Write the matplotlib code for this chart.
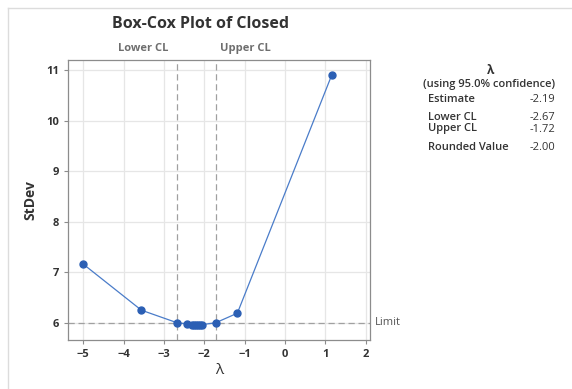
import numpy as np
import matplotlib.pyplot as plt
from matplotlib.lines import Line2D

plt.rcParams['font.family'] = ['Open Sans', 'DejaVu Sans']

# lambda grid and the standard deviation of the transformed data
lam = [-5.0, -3.56, -2.67, -2.43, -2.30, -2.25, -2.20, -2.15, -2.10, -2.05, -1.72, -1.18, 1.16]
stdev = [7.16, 6.25, 6.00, 5.98, 5.965, 5.96, 5.958, 5.96, 5.962, 5.965, 6.00, 6.19, 10.90]

estimate = -2.19
lower_cl = -2.67
upper_cl = -1.72
rounded = -2.00
limit = 6.00

xticks = [-5, -4, -3, -2, -1, 0, 1, 2]
yticks = [6, 7, 8, 9, 10, 11]

W, H = 572, 389
fig = plt.figure(figsize=(W / 100, H / 100), dpi=100)

def px(x0, y0, x1, y1):
    return [x0 / W, 1 - y1 / H, (x1 - x0) / W, (y1 - y0) / H]

# faint frame round the graph region
fig.add_artist(Line2D([8 / W, 8 / W], [0, 1 - 8 / H], color='#dcdcdc', lw=1))
fig.add_artist(Line2D([8 / W, 1], [1 - 8 / H, 1 - 8 / H], color='#dcdcdc', lw=1))

ax = fig.add_axes(px(68, 60, 370, 340))
ax.set_xlim(-5.38, 2.11)
ax.set_ylim(5.66, 11.2)
ax.set_xticks(xticks)
ax.set_yticks(yticks)
ax.grid(True, color='#e6e6e6', lw=0.9)
ax.set_axisbelow(True)
for s in ax.spines.values():
    s.set_color('#8c8c8c')
    s.set_linewidth(0.9)
ax.tick_params(colors='#8c8c8c', labelcolor='#333333', length=3, width=0.8, labelsize=8)
for lab in ax.get_xticklabels() + ax.get_yticklabels():
    lab.set_fontweight('bold')

ax.axhline(limit, color='#a0a0a0', ls=(0, (5, 3)), lw=0.9, zorder=1)
ax.axvline(lower_cl, color='#a0a0a0', ls=(0, (5, 3)), lw=0.9, zorder=1)
ax.axvline(upper_cl, color='#a0a0a0', ls=(0, (5, 3)), lw=0.9, zorder=1)

ax.plot(lam, stdev, color='#4a7cc9', lw=0.9, marker='o', ms=5,
        mfc='#2b5fb4', mec='#2b5fb4', zorder=3)

ax.text(lower_cl - 0.22, 11.32, 'Lower CL', ha='right', va='bottom', fontsize=8,
        color='#6e6e6e', fontweight='bold')
ax.text(upper_cl + 0.1, 11.32, 'Upper CL', ha='left', va='bottom', fontsize=8,
        color='#6e6e6e', fontweight='bold')
ax.text(2.22, limit, 'Limit', ha='left', va='center', fontsize=8, color='#555555')

ax.set_xlabel('λ', fontsize=11, color='#333333', labelpad=2)
ax.set_ylabel('StDev', fontsize=10, color='#333333', fontweight='bold', labelpad=6)

fig.text(200 / W, 1 - 24 / H, 'Box-Cox Plot of Closed', ha='center', va='center',
         fontsize=11.5, fontweight='bold', color='#333333')

# summary block on the right
c = '#333333'
fig.text(491 / W, 1 - 70 / H, 'λ', ha='center', va='center', fontsize=8.5, color=c, fontweight='bold')
fig.text(489 / W, 1 - 85 / H, '(using 95.0% confidence)', ha='center', va='center',
         fontsize=8, color=c, fontweight='semibold')
rows = [('Estimate', estimate, 100), ('Lower CL', lower_cl, 117),
        ('Upper CL', upper_cl, 129), ('Rounded Value', rounded, 148)]
for name, val, y in rows:
    fig.text(428 / W, 1 - y / H, name, ha='left', va='center', fontsize=8, color=c,
             fontweight='semibold')
    fig.text(555 / W, 1 - y / H, f'{val:.2f}', ha='right', va='center', fontsize=8, color=c)

fig.savefig('out.png', dpi=100)
